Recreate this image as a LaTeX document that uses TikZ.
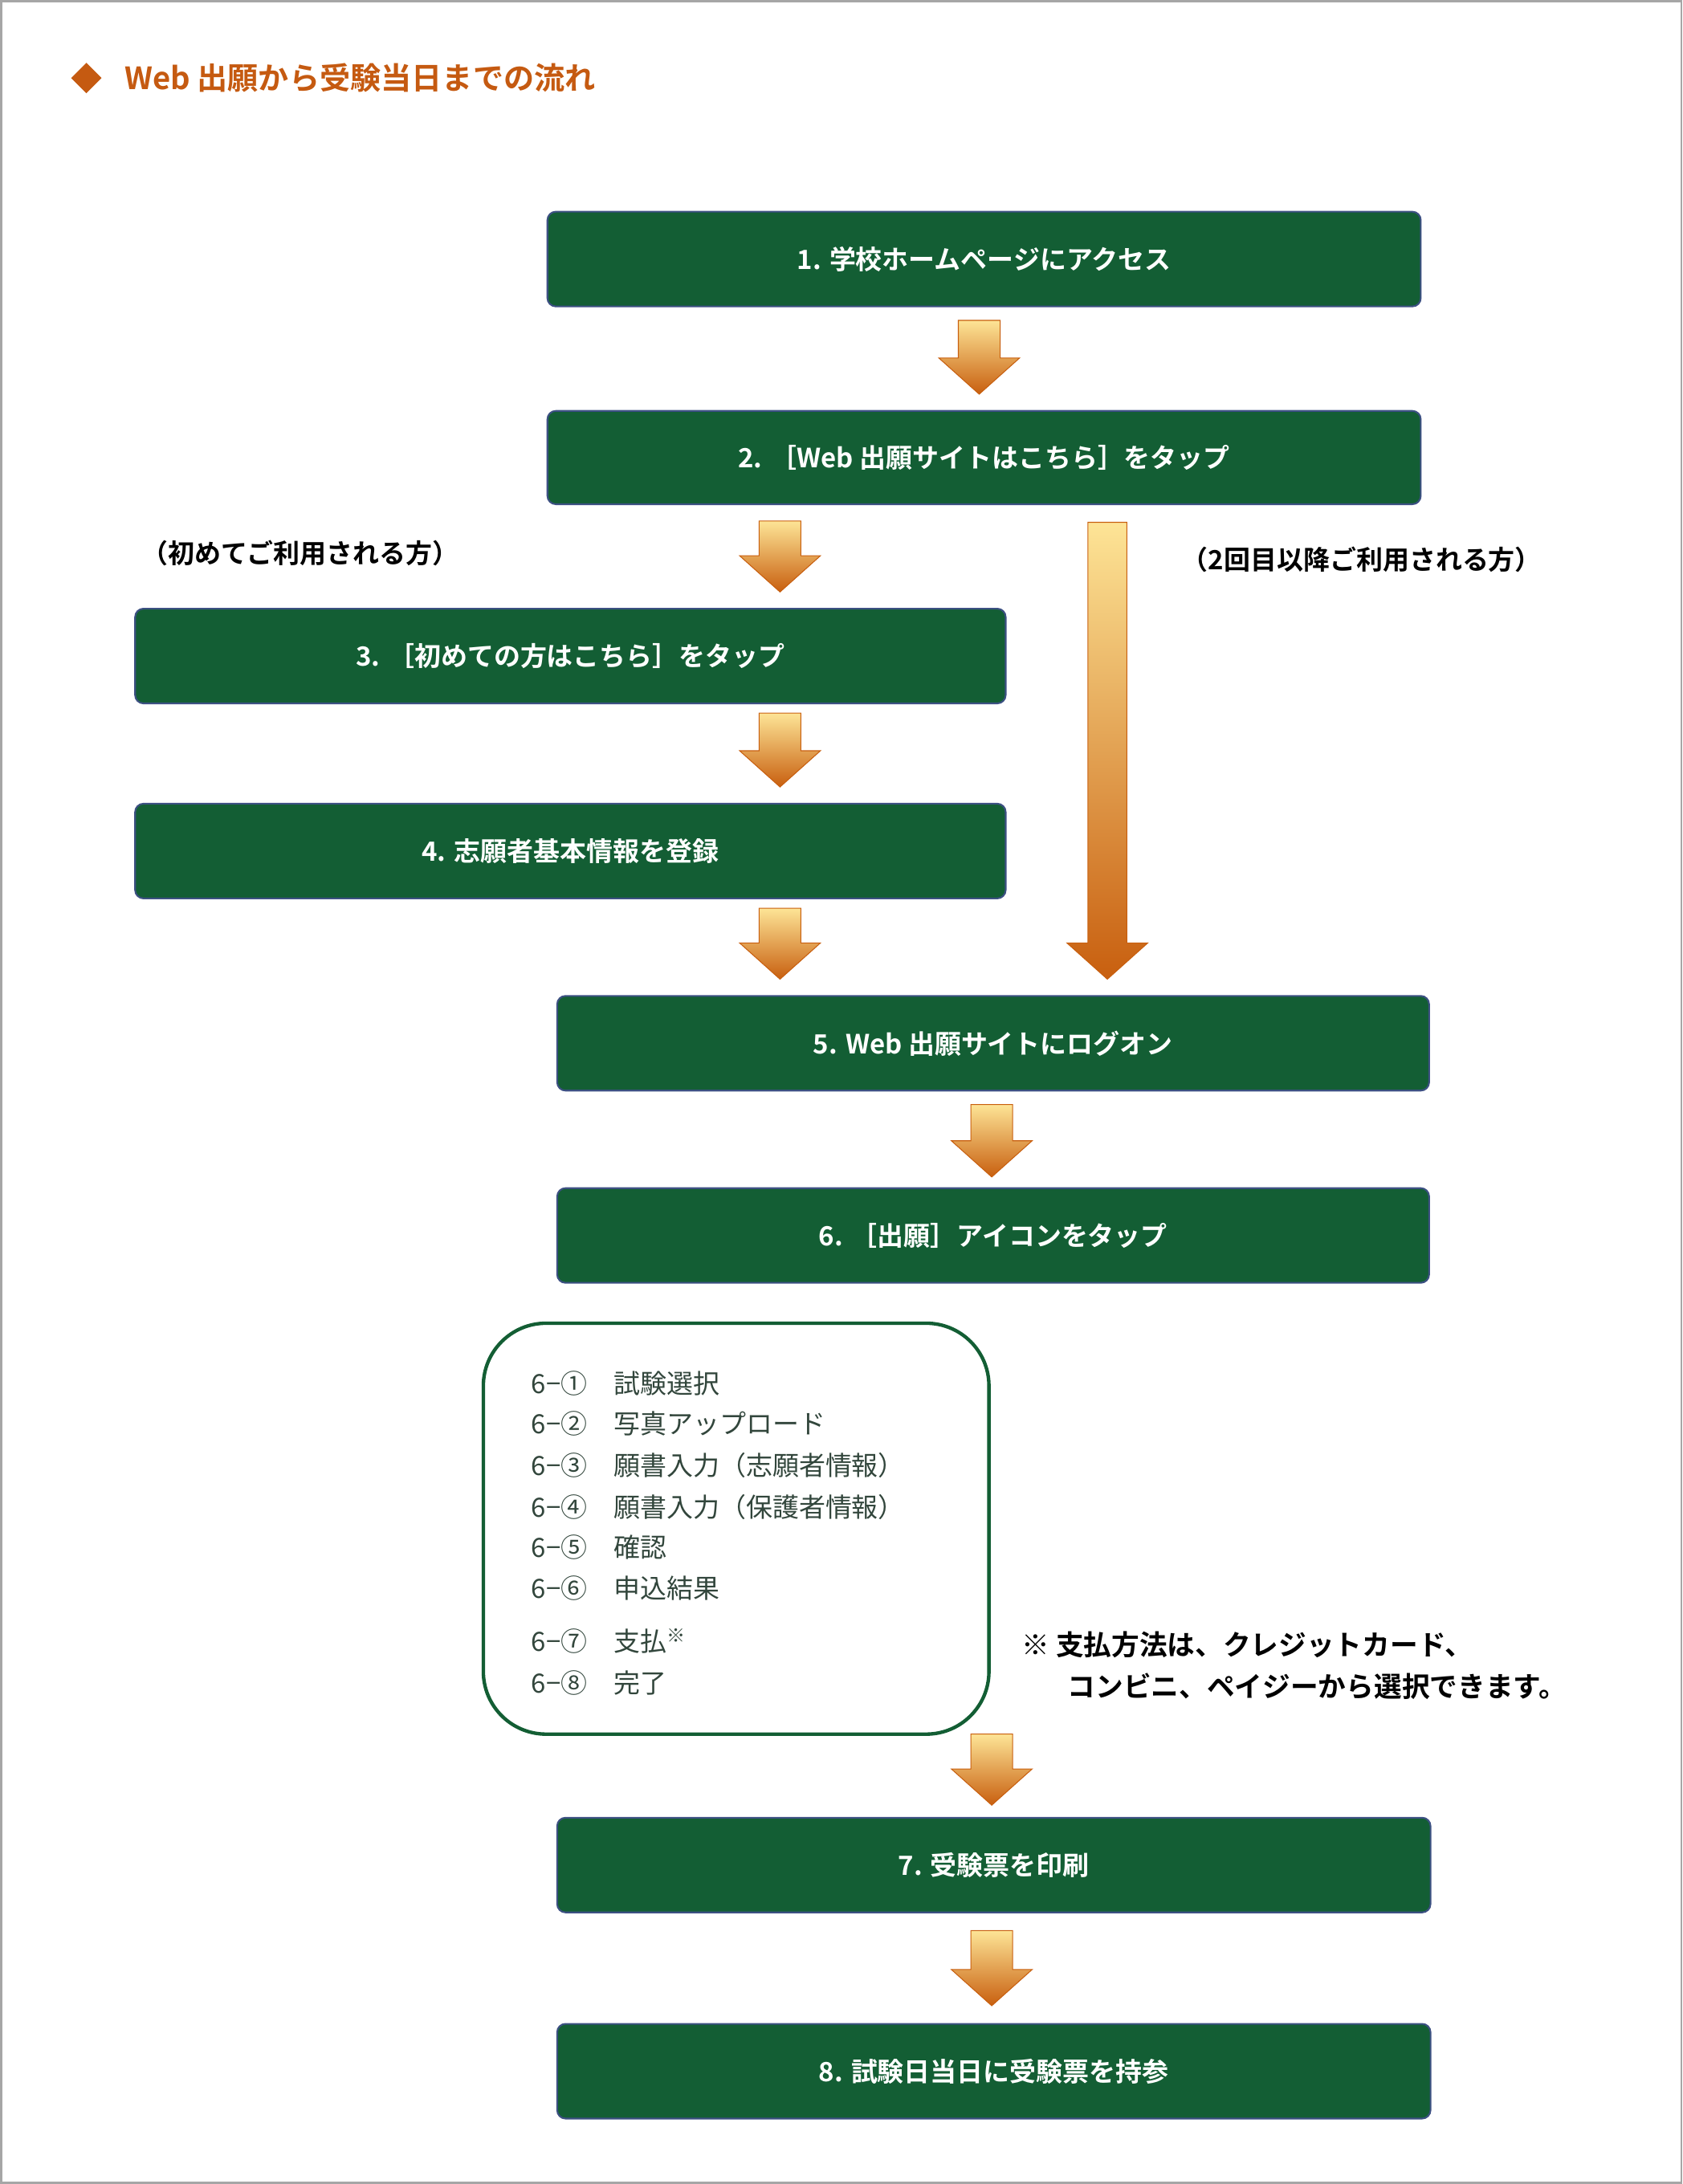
\documentclass[tikz,border=0pt]{standalone}
\usetikzlibrary{shapes.geometric}
\usepackage{fontspec}
\setmainfont{Noto Sans CJK JP}
\newfontfamily\jpb{Noto Sans CJK JP Bold}
\definecolor{boxg}{RGB}{19,94,52}
\definecolor{boxe}{RGB}{60,80,130}
\definecolor{ora}{RGB}{197,90,17}
\definecolor{atop}{RGB}{253,228,150}
\definecolor{abot}{RGB}{200,95,15}
\definecolor{listc}{RGB}{50,70,60}
\newcommand\barrow[4]{\shade[top color=atop,bottom color=abot,draw=abot,line width=0.6]
 (#1-#4,-#2) -- (#1+#4,-#2) -- (#1+#4,-#3+26) -- (#1+29,-#3+26) -- (#1,-#3) -- (#1-29,-#3+26) -- (#1-#4,-#3+26) -- cycle;}
\tikzset{gbox/.style={draw=boxe,line width=1.2,fill=boxg,rounded corners=6,text=white,font=\jpb\fontsize{19}{22}\selectfont,inner sep=0}}
\begin{document}
\begin{tikzpicture}[x=1pt,y=1pt]
\useasboundingbox (0,0) rectangle (1208,-1568);
\draw[gray!70,line width=1.5] (1,-1) rectangle (1207,-1567);
\node[diamond,fill=ora,minimum width=22,minimum height=22,inner sep=0] (dm) at (62,-56) {};
\node[anchor=west,text=ora,font=\jpb\fontsize{22}{26}\selectfont] (title) at (86,-56) {Web 出願から受験当日までの流れ};
\newcommand\gb[6]{\path[gbox] (#2,-#3) rectangle (#4,-#5) node[midway] (#1) {#6};}
\gb{b1}{393}{152}{1020}{220}{1. 学校ホームページにアクセス}
\gb{b2}{393}{295}{1020}{362}{2. ［Web 出願サイトはこちら］をタップ}
\gb{b3}{97}{437}{722}{505}{3. ［初めての方はこちら］をタップ}
\gb{b4}{97}{577}{722}{645}{4. 志願者基本情報を登録}
\gb{b5}{400}{715}{1026}{783}{5. Web 出願サイトにログオン}
\gb{b6}{400}{853}{1026}{921}{6. ［出願］アイコンをタップ}
\gb{b7}{400}{1305}{1027}{1373}{7. 受験票を印刷}
\gb{b8}{400}{1453}{1027}{1521}{8. 試験日当日に受験票を持参}
\barrow{703}{230}{283}{15}
\barrow{560}{374}{425}{15}
\barrow{560}{512}{565}{15}
\barrow{560}{652}{703}{15}
\barrow{795}{375}{703}{14}
\barrow{712}{793}{845}{15}
\barrow{712}{1245}{1296}{15}
\barrow{712}{1386}{1440}{15}
\node[anchor=west,font=\jpb\fontsize{19}{22}\selectfont] (l1) at (98,-397) {（初めてご利用される方）};
\node[anchor=west,font=\jpb\fontsize{19}{22}\selectfont] (l2) at (845,-402) {（2回目以降ご利用される方）};
\draw[boxg,line width=2.5,rounded corners=45] (347,-950) rectangle (710,-1245);
\foreach \t/\y in {6−①\quad 試験選択/993,6−②\quad 写真アップロード/1022,6−③\quad 願書入力（志願者情報）/1052,6−④\quad 願書入力（保護者情報）/1082,6−⑤\quad 確認/1111,6−⑥\quad 申込結果/1140,6−⑦\quad 支払\textsuperscript{※}/1178,6−⑧\quad 完了/1208}
 \node[anchor=west,text=listc,font=\fontsize{19}{22}\selectfont] at (378,-\y) {\t};
\node[anchor=north west,align=left,font=\jpb\fontsize{20}{30}\selectfont] (note) at (730,-1168) {※\ 支払方法は、クレジットカード、\\\hspace*{1.65em}コンビニ、ペイジーから選択できます。};
\end{tikzpicture}
\end{document}
